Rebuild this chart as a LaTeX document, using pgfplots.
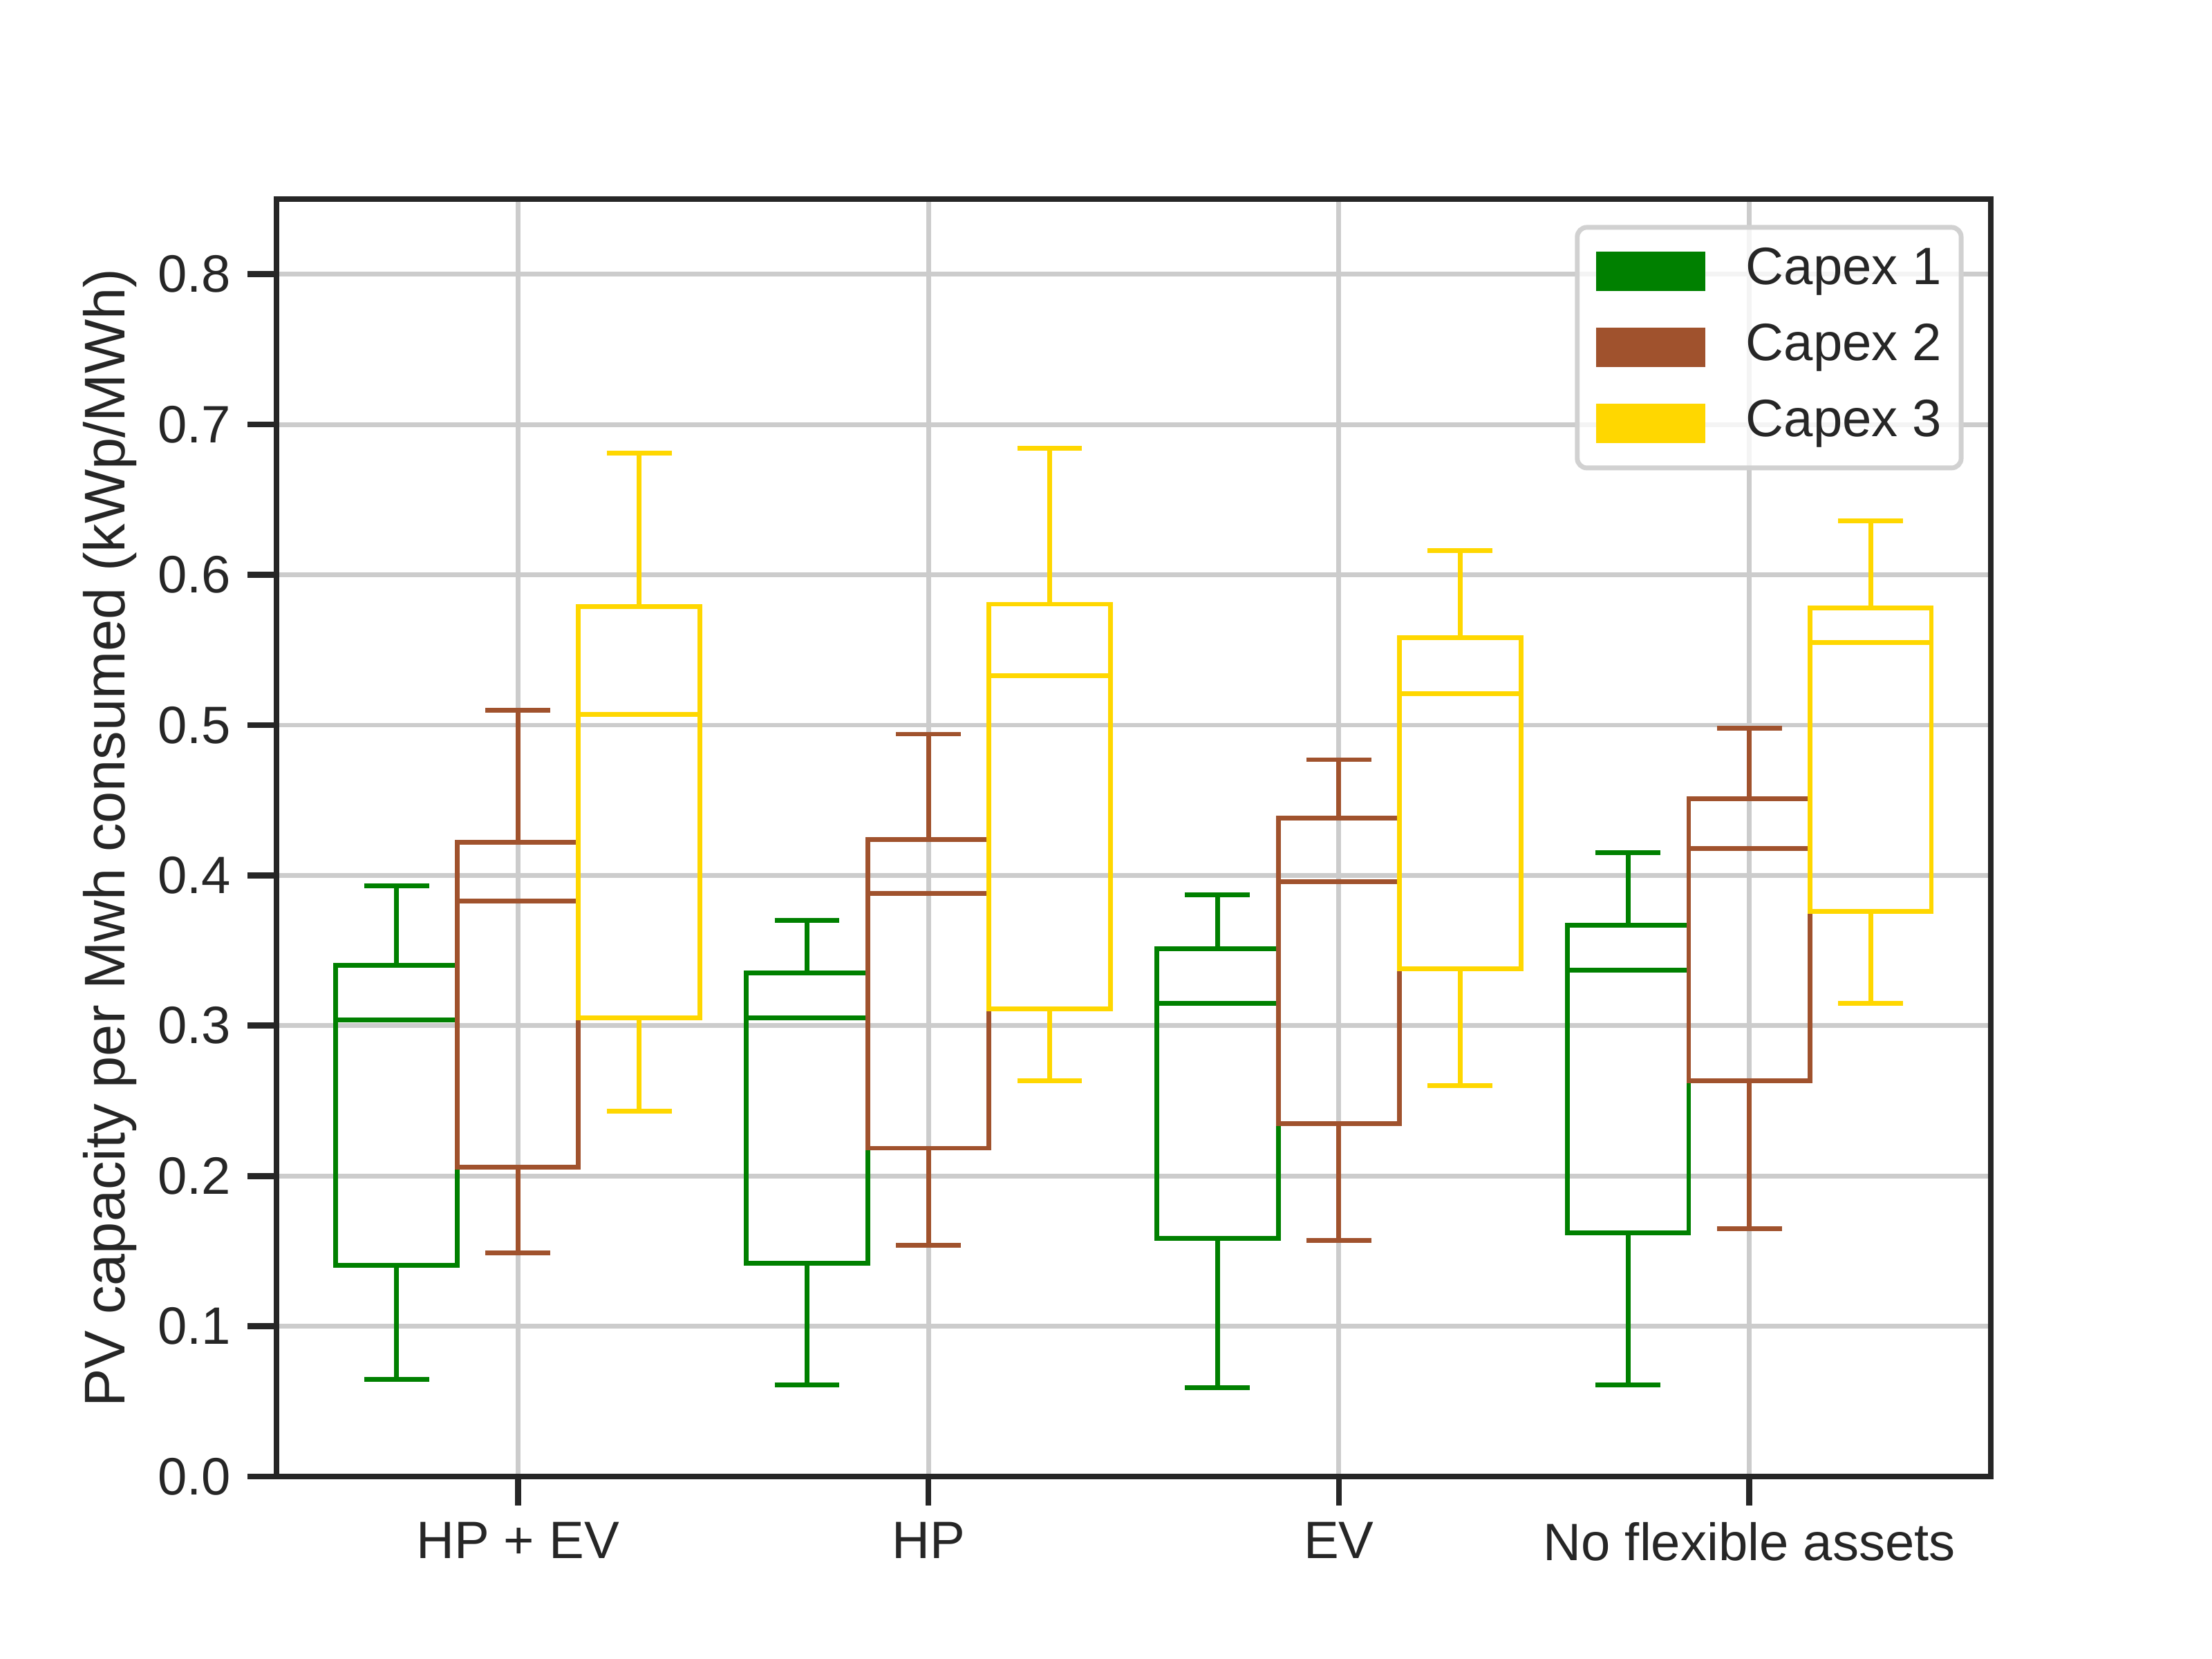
\documentclass[border=0pt]{standalone}
\usepackage{fontspec}
\setmainfont{Liberation Sans}
\usepackage{pgfplots}
\pgfplotsset{compat=1.18}
\usepgfplotslibrary{statistics}
\definecolor{cg}{RGB}{0,128,0}
\definecolor{cb}{RGB}{160,82,45}
\definecolor{cy}{RGB}{255,215,0}
\definecolor{tc}{HTML}{262626}
\definecolor{gc}{HTML}{CCCCCC}
\begin{document}
\begin{tikzpicture}
\path[use as bounding box] (-2.032cm,-1.341cm) rectangle (14.224cm,10.851cm);
\begin{axis}[
  at={(0,0)}, anchor=south west,
  scale only axis, width=12.598cm, height=9.388cm,
  xmin=-0.588, xmax=3.588, ymin=0, ymax=0.85,
  xtick={0,1,2,3},
  xticklabels={HP + EV, HP, EV, No flexible assets},
  ytick={0,0.1,0.2,0.3,0.4,0.5,0.6,0.7,0.8},
  yticklabel style={/pgf/number format/.cd, fixed, fixed zerofill, precision=1},
  /pgf/number format/assume math mode=true,
  tick label style={font=\fontsize{11}{13.2}\selectfont, text=tc},
  xtick pos=bottom, ytick pos=left,
  tick align=outside,
  major tick length=6pt,
  every tick/.style={draw=tc, line width=1.25pt},
  axis line style={draw=tc, line width=1.25pt},
  grid=major,
  major grid style={draw=gc, line width=1pt},
  boxplot/draw direction=y,
  ylabel={PV capacity per Mwh consumed (kWp/MWh)},
  ylabel style={at={(axis description cs:-0.0971,0.5)}, anchor=center, font=\fontsize{12}{14.4}\selectfont, text=tc},
  legend style={at={(1,1)}, anchor=north east, xshift=-0.2cm, yshift=-0.19cm,
    draw=black!18, rounded corners=2pt, line width=1pt, fill=white, fill opacity=0.8, text opacity=1,
    font=\fontsize{11}{13.2}\selectfont, text=tc,
    inner xsep=4pt, inner ysep=4pt,
    nodes={inner sep=0pt, text height=8pt, text depth=2.5pt},
    row sep=5.4pt},
  legend cell align=left,
  /tikz/every odd column/.append style={column sep=0.3cm},
]
\addlegendimage{legend image code/.code={\fill[cg, sharp corners, fill opacity=1, draw=none] (0cm,-0.145cm) rectangle (0.8cm,0.145cm);}}
\addlegendentry{Capex 1}
\addlegendimage{legend image code/.code={\fill[cb, sharp corners, fill opacity=1, draw=none] (0cm,-0.145cm) rectangle (0.8cm,0.145cm);}}
\addlegendentry{Capex 2}
\addlegendimage{legend image code/.code={\fill[cy, sharp corners, fill opacity=1, draw=none] (0cm,-0.145cm) rectangle (0.8cm,0.145cm);}}
\addlegendentry{Capex 3}

% HP + EV
\addplot[draw=cg, line width=1pt, forget plot, boxplot prepared={draw position=-0.2955, lower whisker=0.0647, lower quartile=0.1407, median=0.304, upper quartile=0.340, upper whisker=0.393, box extend=0.2955, whisker extend=0.158}] coordinates {};
\addplot[draw=cb, line width=1pt, forget plot, boxplot prepared={draw position=0, lower whisker=0.149, lower quartile=0.206, median=0.383, upper quartile=0.422, upper whisker=0.510, box extend=0.2955, whisker extend=0.158}] coordinates {};
\addplot[draw=cy, line width=1pt, forget plot, boxplot prepared={draw position=0.2955, lower whisker=0.243, lower quartile=0.305, median=0.507, upper quartile=0.579, upper whisker=0.681, box extend=0.2955, whisker extend=0.158}] coordinates {};
% HP
\addplot[draw=cg, line width=1pt, forget plot, boxplot prepared={draw position=0.7045, lower whisker=0.061, lower quartile=0.142, median=0.305, upper quartile=0.335, upper whisker=0.370, box extend=0.2955, whisker extend=0.158}] coordinates {};
\addplot[draw=cb, line width=1pt, forget plot, boxplot prepared={draw position=1, lower whisker=0.154, lower quartile=0.2185, median=0.388, upper quartile=0.424, upper whisker=0.494, box extend=0.2955, whisker extend=0.158}] coordinates {};
\addplot[draw=cy, line width=1pt, forget plot, boxplot prepared={draw position=1.2955, lower whisker=0.2635, lower quartile=0.311, median=0.533, upper quartile=0.5805, upper whisker=0.684, box extend=0.2955, whisker extend=0.158}] coordinates {};
% EV
\addplot[draw=cg, line width=1pt, forget plot, boxplot prepared={draw position=1.7045, lower whisker=0.059, lower quartile=0.1585, median=0.315, upper quartile=0.351, upper whisker=0.387, box extend=0.2955, whisker extend=0.158}] coordinates {};
\addplot[draw=cb, line width=1pt, forget plot, boxplot prepared={draw position=2, lower whisker=0.157, lower quartile=0.235, median=0.396, upper quartile=0.438, upper whisker=0.477, box extend=0.2955, whisker extend=0.158}] coordinates {};
\addplot[draw=cy, line width=1pt, forget plot, boxplot prepared={draw position=2.2955, lower whisker=0.260, lower quartile=0.338, median=0.521, upper quartile=0.558, upper whisker=0.616, box extend=0.2955, whisker extend=0.158}] coordinates {};
% No flexible assets
\addplot[draw=cg, line width=1pt, forget plot, boxplot prepared={draw position=2.7045, lower whisker=0.061, lower quartile=0.162, median=0.337, upper quartile=0.367, upper whisker=0.415, box extend=0.2955, whisker extend=0.158}] coordinates {};
\addplot[draw=cb, line width=1pt, forget plot, boxplot prepared={draw position=3, lower whisker=0.165, lower quartile=0.2635, median=0.418, upper quartile=0.451, upper whisker=0.498, box extend=0.2955, whisker extend=0.158}] coordinates {};
\addplot[draw=cy, line width=1pt, forget plot, boxplot prepared={draw position=3.2955, lower whisker=0.315, lower quartile=0.376, median=0.555, upper quartile=0.578, upper whisker=0.636, box extend=0.2955, whisker extend=0.158}] coordinates {};
\end{axis}
\end{tikzpicture}
\end{document}
